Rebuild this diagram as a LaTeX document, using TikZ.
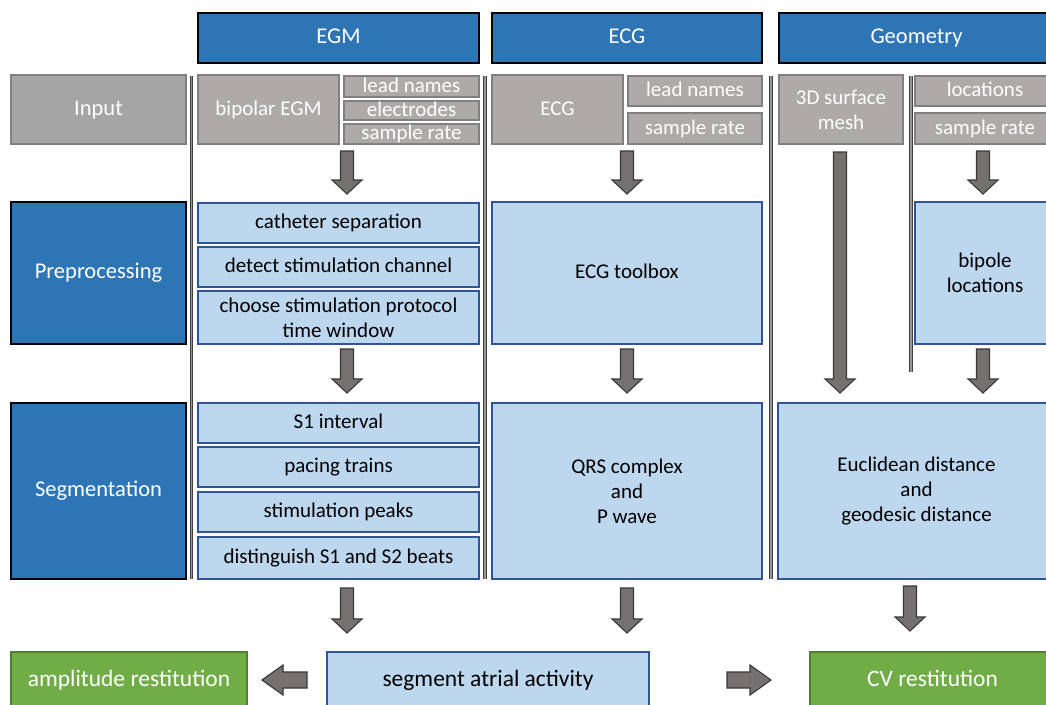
\documentclass[tikz,border=0pt]{standalone}
\usepackage{fontspec}
\setmainfont{Carlito}
\definecolor{dblue}{HTML}{2E75B6}
\definecolor{lblue}{HTML}{BDD7EE}
\definecolor{bline}{HTML}{2F5597}
\definecolor{gfill}{HTML}{AEAAAA}
\definecolor{gfillb}{HTML}{A5A5A5}
\definecolor{gline}{HTML}{808080}
\definecolor{gr}{HTML}{70AD47}
\definecolor{grline}{HTML}{507E32}
\definecolor{arrfill}{HTML}{767171}
\definecolor{arrline}{HTML}{3A3838}
\definecolor{sepline}{HTML}{404040}
\definecolor{sepcore}{HTML}{959595}
\tikzset{
  base/.style={inner sep=0pt, outer sep=0pt, anchor=north west, align=center,
    font=\fontsize{21}{25}\selectfont},
  one/.style={text height=15pt, text depth=4pt},
  big/.style={font=\fontsize{23.5}{28}\selectfont, text height=17pt, text depth=4.5pt},
  hdr/.style={base, draw=black, line width=1.8pt, fill=dblue, text=white,
    font=\fontsize{22.5}{27}\selectfont},
  glabel/.style={base, draw=gline, line width=1.6pt, fill=gfillb, text=white,
    font=\fontsize{22.5}{27}\selectfont},
  gbox/.style={base, draw=gline, line width=1.5pt, fill=gfill, text=white},
  bbox/.style={base, draw=bline, line width=1.3pt, fill=lblue, text=black},
  grbox/.style={base, draw=grline, line width=1.3pt, fill=gr, text=white},
  barrow/.style={fill=arrfill, draw=arrline, line width=1.1pt, line join=miter},
  vsepout/.style={draw=sepline, line width=3.6pt},
  vsepin/.style={draw=sepcore, line width=1.2pt}
}
\newcommand\bdown[3]{%
  \filldraw[barrow] (#1-6.5,#2) -- (#1+6.5,#2) -- (#1+6.5,#3-14) -- (#1+15,#3-14)
    -- (#1,#3) -- (#1-15,#3-14) -- (#1-6.5,#3-14) -- cycle;}
\newcommand\vsep[3]{%
  \draw[vsepout] (#1,#2) -- (#1,#3);
  \draw[vsepin] (#1,#2) -- (#1,#3);}
\begin{document}
\begin{tikzpicture}[x=1pt,y=-1pt]
\useasboundingbox (0,0) rectangle (1046,704);
\fill[white] (0,0) rectangle (1046,704);
% headers
\node[hdr, one, minimum width=281, minimum height=50] (hEGM) at (198,13) {EGM};
\node[hdr, one, minimum width=270, minimum height=50] (hECG) at (492,13) {ECG};
\node[hdr, one, minimum width=275, minimum height=50] (hGeo) at (779,13) {Geometry};
% row labels
\node[glabel, one, minimum width=175, minimum height=69] (rIn) at (11,75) {Input};
\node[hdr, one, minimum width=175, minimum height=142] (rPre) at (11,202) {Preprocessing};
\node[hdr, one, minimum width=175, minimum height=176] (rSeg) at (11,403) {Segmentation};
% separators
\vsep{191.5}{76}{579}
\vsep{485}{76}{579}
\vsep{771}{76}{579}
\vsep{911}{76}{372}
% EGM column
\node[gbox, one, minimum width=141, minimum height=69] (egmIn) at (198,75) {bipolar EGM};
\node[gbox, one, minimum width=135, minimum height=21] (egmLead) at (344,76) {lead names};
\node[gbox, one, minimum width=135, minimum height=18] (egmElec) at (344,101) {electrodes};
\node[gbox, one, minimum width=135, minimum height=20] (egmRate) at (344,124) {sample rate};
\node[bbox, one, minimum width=281, minimum height=40] (cath) at (198,203) {catheter separation};
\node[bbox, one, minimum width=281, minimum height=40] (detect) at (198,247) {detect stimulation channel};
\node[bbox, minimum width=281, minimum height=53] (choose) at (198,291) {choose stimulation protocol\\time window};
\node[bbox, one, minimum width=281, minimum height=40] (s1) at (198,403) {S1 interval};
\node[bbox, one, minimum width=281, minimum height=40] (pacing) at (198,447) {pacing trains};
\node[bbox, one, minimum width=281, minimum height=40] (peaks) at (198,492) {stimulation peaks};
\node[bbox, one, minimum width=281, minimum height=42] (dist) at (198,537) {distinguish S1 and S2 beats};
% ECG column
\node[gbox, one, minimum width=131, minimum height=69] (ecgIn) at (492,75) {ECG};
\node[gbox, one, minimum width=134, minimum height=30] (ecgLead) at (628,76) {lead names};
\node[gbox, one, minimum width=134, minimum height=31] (ecgRate) at (628,113) {sample rate};
\node[bbox, one, minimum width=270, minimum height=142] (ecgTool) at (492,202) {ECG toolbox};
\node[bbox, minimum width=270, minimum height=176] (qrs) at (492,403) {QRS complex\\and\\P wave};
% Geometry column
\node[gbox, minimum width=124, minimum height=69] (mesh) at (779,75) {3D surface\\mesh};
\node[gbox, one, minimum width=140, minimum height=30] (loc) at (915,76) {locations};
\node[gbox, one, minimum width=140, minimum height=31] (geoRate) at (915,113) {sample rate};
\node[bbox, minimum width=140, minimum height=142] (bipole) at (915,202) {bipole\\locations};
\node[bbox, minimum width=277, minimum height=176] (eucl) at (778,403) {Euclidean distance\\and\\geodesic distance};
% bottom row
\node[grbox, big, minimum width=236, minimum height=56] (amp) at (11,652) {amplitude restitution};
\node[bbox, big, minimum width=322, minimum height=56] (segm) at (327,652) {segment atrial activity};
\node[grbox, big, minimum width=245, minimum height=56] (cv) at (810,652) {CV restitution};
% block arrows
\bdown{347}{151}{194}
\bdown{627}{151}{194}
\bdown{983}{151}{194}
\bdown{840}{152}{393}
\bdown{347}{349}{393}
\bdown{627}{349}{393}
\bdown{983}{349}{393}
\bdown{347}{588}{633}
\bdown{627}{588}{633}
\bdown{910}{586}{631}
\filldraw[barrow] (307,672) -- (307,688) -- (283,688) -- (283,695) -- (262,680)
  -- (283,665) -- (283,672) -- cycle;
\filldraw[barrow] (727,672) -- (727,688) -- (750,688) -- (750,695) -- (771,680)
  -- (750,665) -- (750,672) -- cycle;
\end{tikzpicture}
\end{document}
